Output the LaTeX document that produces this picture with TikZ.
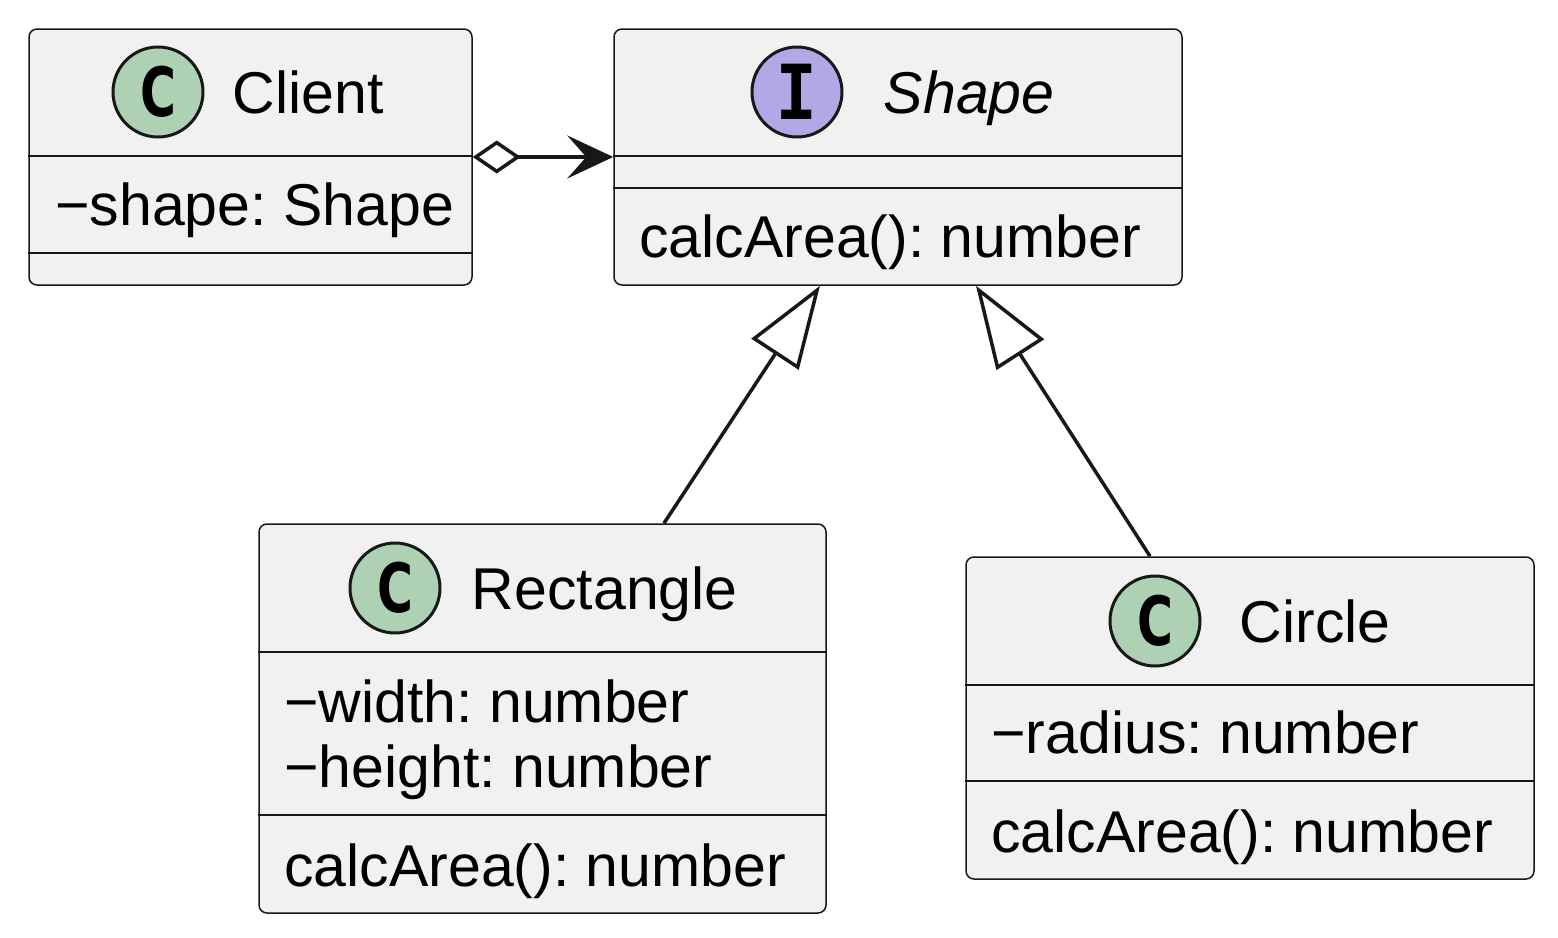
\documentclass[tikz,border=0pt]{standalone}
\usepackage{fontspec}
\usepackage{graphicx}
\setmainfont{Liberation Sans}
\newfontfamily\spotfont{Liberation Mono}
\newfontfamily\spotletter{DejaVu Sans}
\usetikzlibrary{positioning, arrows.meta}
\frenchspacing

\definecolor{boxfill}{HTML}{F1F1F1}
\definecolor{boxline}{HTML}{181818}
\definecolor{classspot}{HTML}{ADD1B2}
\definecolor{ifacespot}{HTML}{B4A7E5}

\tikzstyle{classbox} = [rectangle, rounded corners=4pt, draw=boxline, fill=boxfill, line width=0.75pt, inner sep=0pt]
\tikzstyle{spot} = [circle, draw=boxline, line width=1.5pt, minimum size=45pt, inner sep=0pt]
\tikzstyle{classname} = [inner sep=0pt, text height=21pt, text depth=0pt, font=\fontsize{29.5}{33}\selectfont]
\tikzstyle{member} = [inner sep=0pt, anchor=base west, font=\fontsize{29.5}{33}\selectfont]
\tikzstyle{divider} = [draw=boxline, line width=0.75pt]
\tikzstyle{agg} = [line width=1.75pt, draw=boxline, {Diamond[open,length=24pt,width=16.5pt]}-{Stealth[length=23pt,width=21.5pt,inset=9.5pt]}]
\tikzstyle{inh} = [line width=1.75pt, draw=boxline, -{Triangle[open,length=41pt,width=28pt]}]

\begin{document}
\begin{tikzpicture}[x=0.5pt, y=-0.5pt]
\useasboundingbox (0,0) rectangle (1558,937);

\node (client) [classbox, minimum width=221.5pt, minimum height=128pt] at (250.5,157) {};
\node (shape) [classbox, minimum width=284pt, minimum height=128pt] at (898,157) {};
\node (rect) [classbox, minimum width=283.5pt, minimum height=194.5pt] at (542.5,718.5) {};
\node (circ) [classbox, minimum width=284pt, minimum height=161pt] at (1250,718) {};

% compartments
\draw[divider] (client.west |- 0,156) -- (client.east |- 0,156);
\draw[divider] (client.west |- 0,253) -- (client.east |- 0,253);
\draw[divider] (shape.west |- 0,156) -- (shape.east |- 0,156);
\draw[divider] (shape.west |- 0,188) -- (shape.east |- 0,188);
\draw[divider] (rect.west |- 0,652) -- (rect.east |- 0,652);
\draw[divider] (rect.west |- 0,815) -- (rect.east |- 0,815);
\draw[divider] (circ.west |- 0,685) -- (circ.east |- 0,685);
\draw[divider] (circ.west |- 0,781) -- (circ.east |- 0,781);

\node (clientspot) [spot, fill=classspot] at (158,92) {\fontsize{34}{34}\spotletter\bfseries\scalebox{0.72}[1]{C}};
\node (clientname) [classname, right=14pt of clientspot] {Client};
\node (shapespot) [spot, fill=ifacespot] at (797,92) {\fontsize{42}{42}\spotfont\bfseries\scalebox{0.8}[1]{I}};
\node (shapename) [classname, right=20pt of shapespot] {\itshape Shape};
\node (rectspot) [spot, fill=classspot] at (395,588) {\fontsize{34}{34}\spotletter\bfseries\scalebox{0.72}[1]{C}};
\node (rectname) [classname, right=15pt of rectspot] {Rectangle};
\node (circspot) [spot, fill=classspot] at (1155,621) {\fontsize{34}{34}\spotletter\bfseries\scalebox{0.72}[1]{C}};
\node (circname) [classname, right=19pt of circspot] {Circle};

\node (clientattr) [member] at (55,225) {−shape: Shape};
\node (shapeop) [member] at (639,257) {calcArea(): number};
\node (rectw) [member] at (284,722) {−width: number};
\node (recth) [member] at (284,787) {−height: number};
\node (rectop) [member] at (284,886) {calcArea(): number};
\node (circr) [member] at (991,753) {−radius: number};
\node (circop) [member] at (991,852) {calcArea(): number};

\draw[agg] (client.east) -- (shape.west);
\draw[inh] ([xshift=60.75pt]rect.north) -- ([xshift=-39pt]shape.south);
\draw[inh] ([xshift=-50pt]circ.north) -- ([xshift=39pt]shape.south);

\end{tikzpicture}
\end{document}
